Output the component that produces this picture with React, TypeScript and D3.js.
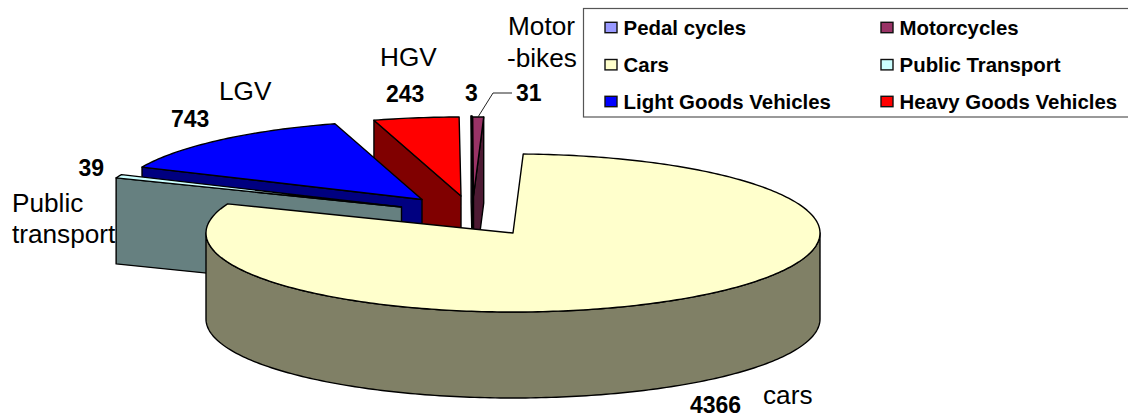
import React from "react";
import * as d3 from "d3";

// ---- data (clockwise pie order, as in the legend)
const seriesNames = ["Pedal cycles", "Motorcycles", "Cars", "Public Transport", "Light Goods Vehicles", "Heavy Goods Vehicles"];
const seriesValues = [3, 31, 4366, 39, 743, 243];
const seriesColors = ["#9999FF", "#993366", "#FFFFCC", "#CCFFFF", "#0000FF", "#FF0000"];
const wallColors = ["#26264d", "#4d1a33", "#808066", "#668080", "#000080", "#800000"];
const legendOrder = [0, 1, 2, 3, 4, 5];

// ---- layout
const W = 1128, H = 418;
const CX = 513, CY = 233, RX = 307, RY = 79, DEPTH = 86;
const FIRST_ANGLE = (-0.35 * Math.PI) / 180;
const explodeOffsets: [number, number][] = [[-40, -38], [-39.5, -37], [0, 0], [-111.5, -26], [-91, -33.5], [-52, -37]];
const paintOrder = [5, 0, 1, 4, 3, 2];

type Label = { t: string; x: number; y: number; bold?: boolean };
const labels: Label[] = [
  { t: "Motor", x: 508, y: 35 },
  { t: "-bikes", x: 507, y: 66.5 },
  { t: "HGV", x: 380, y: 66 },
  { t: "LGV", x: 219, y: 99.5 },
  { t: "Public", x: 12, y: 212 },
  { t: "transport", x: 12, y: 242.5 },
  { t: "cars", x: 763, y: 404 },
  { t: "243", x: 386, y: 102, bold: true },
  { t: "3", x: 465, y: 101, bold: true },
  { t: "31", x: 516, y: 101, bold: true },
  { t: "743", x: 171, y: 127, bold: true },
  { t: "39", x: 78.5, y: 176, bold: true },
  { t: "4366", x: 690, y: 413, bold: true },
];

const FONT = "'Liberation Sans', Arial, sans-serif";

export default function App() {
  const arcs = d3
    .pie<number>()
    .sort(null)
    .startAngle(FIRST_ANGLE)
    .endAngle(FIRST_ANGLE + 2 * Math.PI)(seriesValues);

  const sx = d3.scaleLinear().domain([-1, 1]).range([-RX, RX]);
  const sy = d3.scaleLinear().domain([-1, 1]).range([RY, -RY]);
  const line = d3.line<[number, number]>();

  const rim = (a: number, ox: number, oy: number, drop = 0): [number, number] => [
    CX + ox + sx(Math.sin(a)),
    CY + oy + sy(Math.cos(a)) + drop,
  ];
  const samples = (a0: number, a1: number) => {
    const n = Math.max(2, Math.ceil(Math.abs(a1 - a0) * 60));
    return d3.range(n + 1).map((i) => a0 + ((a1 - a0) * i) / n);
  };

  const shapes = paintOrder.map((idx) => {
    const a = arcs[idx];
    const [ox, oy] = explodeOffsets[idx];
    const apex: [number, number] = [CX + ox, CY + oy];
    const apexLow: [number, number] = [apex[0], apex[1] + DEPTH];
    const walls: string[] = [];
    if (Math.sin(a.startAngle) < 0) {
      walls.push(line([rim(a.startAngle, ox, oy), apex, apexLow, rim(a.startAngle, ox, oy, DEPTH)])! + "Z");
    }
    if (Math.sin(a.endAngle) > 0) {
      walls.push(line([rim(a.endAngle, ox, oy), apex, apexLow, rim(a.endAngle, ox, oy, DEPTH)])! + "Z");
    }
    const f0 = Math.max(a.startAngle, Math.PI / 2);
    const f1 = Math.min(a.endAngle, (3 * Math.PI) / 2);
    if (f1 > f0) {
      const upper = samples(f0, f1).map((t) => rim(t, ox, oy));
      const lower = samples(f1, f0).map((t) => rim(t, ox, oy, DEPTH));
      walls.push(line([...upper, ...lower])! + "Z");
    }
    const top = line([apex, ...samples(a.startAngle, a.endAngle).map((t) => rim(t, ox, oy))])! + "Z";
    return { idx, walls, top };
  });

  const legendX = [605, 881];
  const legendY = [27.5, 64.7, 101.5];

  return (
    <svg
      width={W}
      height={H}
      viewBox={`0 0 ${W} ${H}`}
      style={{ position: "absolute", left: 0, top: 0, background: "#fff" }}
      fontFamily={FONT}
    >
      {shapes.map((s) => (
        <g key={s.idx} stroke="#000" strokeWidth={1.4} strokeLinejoin="round">
          {s.walls.map((d, i) => (
            <path key={i} d={d} fill={wallColors[s.idx]} />
          ))}
          <path d={s.top} fill={seriesColors[s.idx]} />
        </g>
      ))}

      <polyline points="478,117 493,93 512,93" fill="none" stroke="#222" strokeWidth={1} />

      {labels.map((l) => (
        <text
          key={l.t}
          x={l.x}
          y={l.y}
          fontSize={l.bold ? 23 : 26.2}
          fontWeight={l.bold ? 700 : 400}
          fill="#000"
        >
          {l.t}
        </text>
      ))}

      <rect x={583.5} y={8.5} width={560} height={108.5} fill="#fff" stroke="#555" strokeWidth={1.2} />
      {legendOrder.map((k, i) => {
        const x = legendX[i % 2];
        const y = legendY[Math.floor(i / 2)];
        return (
          <g key={seriesNames[k]}>
            <rect x={x} y={y - 5.2} width={12} height={10.4} fill={seriesColors[k]} stroke="#111" strokeWidth={1.4} />
            <text x={x + 18.6} y={y + 7.3} fontSize={20.4} fontWeight={700} fill="#000">
              {seriesNames[k]}
            </text>
          </g>
        );
      })}
    </svg>
  );
}
